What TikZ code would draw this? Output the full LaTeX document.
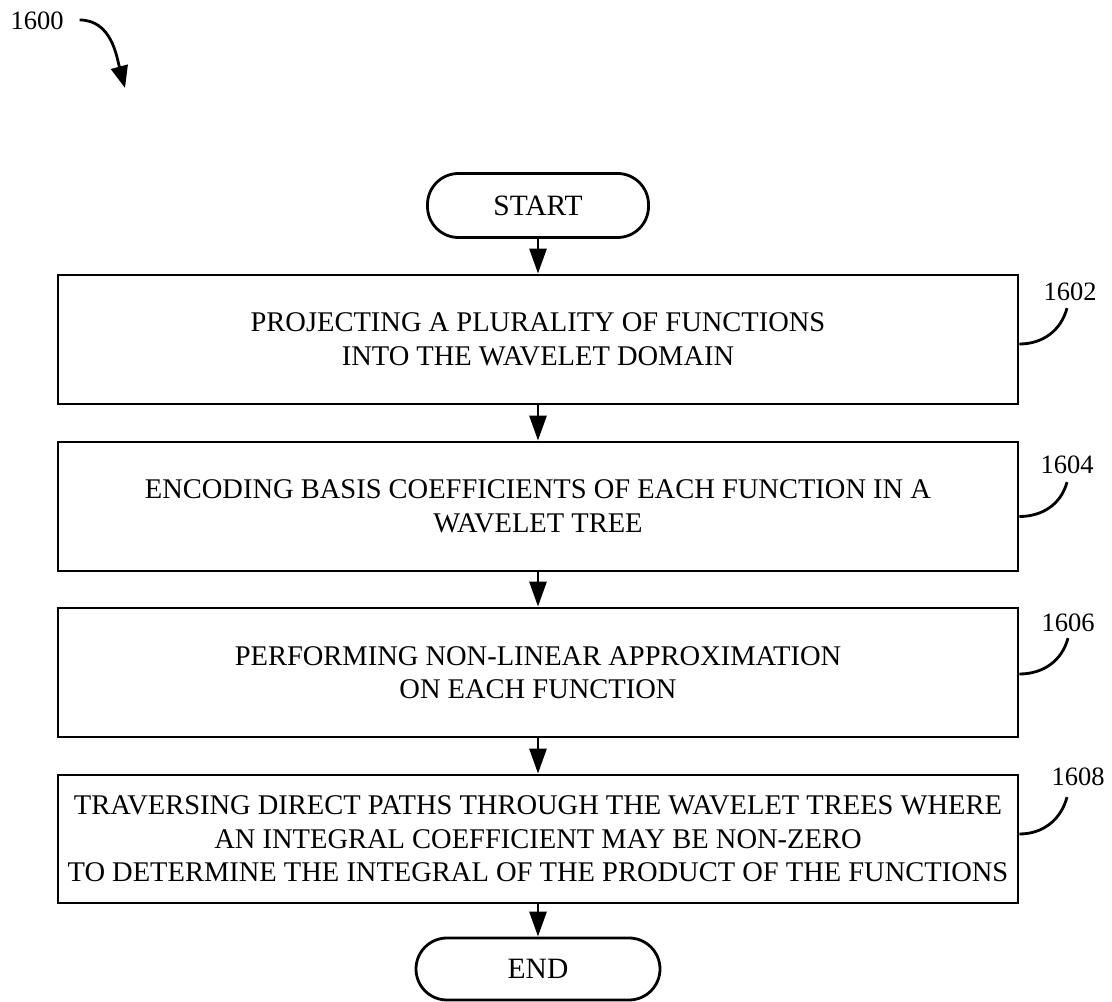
\documentclass[tikz,border=0pt]{standalone}
\usepackage{fontspec}
\setmainfont{Liberation Serif}
\usetikzlibrary{arrows.meta,positioning}

\begin{document}
\begin{tikzpicture}[x=1pt,y=1pt,
  stepbox/.style={draw, line width=2.8pt, minimum width=960pt, minimum height=129pt, align=center, font=\fontsize{28.5}{33.5}\selectfont},
  term/.style={draw, line width=2.8pt, rounded corners=31pt, minimum height=64pt, font=\fontsize{29.5}{32}\selectfont},
  flow/.style={line width=2.8pt, -{Triangle[length=25pt,width=17pt]}},
  ref/.style={font=\fontsize{26.5}{30}\selectfont, inner sep=2pt},
  lead/.style={line width=2.8pt}]
\useasboundingbox (0,0) rectangle (1112,1002);

\node[term, minimum width=221pt] (start) at (538,796.5) {START};
\node[stepbox] (b1) at (538,662.5) {PROJECTING A PLURALITY OF FUNCTIONS\\INTO THE WAVELET DOMAIN};
\node[stepbox] (b2) at (538,495.5) {ENCODING BASIS COEFFICIENTS OF EACH FUNCTION IN A\\WAVELET TREE};
\node[stepbox] (b3) at (538,329.5) {PERFORMING NON-LINEAR APPROXIMATION\\ON EACH FUNCTION};
\node[stepbox, minimum height=128pt] (b4) at (538,163) {TRAVERSING DIRECT PATHS THROUGH THE WAVELET TREES WHERE\\AN INTEGRAL COEFFICIENT MAY BE NON-ZERO\\TO DETERMINE THE INTEGRAL OF THE PRODUCT OF THE FUNCTIONS};
\node[term, minimum width=244pt, minimum height=62pt] (end) at (538,33) {END};

\draw[flow] (start) -- (b1);
\draw[flow] (b1) -- (b2);
\draw[flow] (b2) -- (b3);
\draw[flow] (b3) -- (b4);
\draw[flow] (b4) -- (end);

% reference numerals
\node[ref] (l1600) at (37,981) {1600};
\node[ref] (l1602) at (1070,710) {1602};
\node[ref] (l1604) at (1067,537) {1604};
\node[ref] (l1606) at (1068,379) {1606};
\node[ref] (l1608) at (1078,225) {1608};

\draw[lead, -{Triangle[length=22pt,width=17pt]}] ([xshift=14pt,yshift=1pt]l1600.east) to[out=0,in=105] (125,914);
\draw[lead] ([yshift=-4.5pt]b1.east) to[out=0,in=-105] ([xshift=-3pt,yshift=-5pt]l1602.south);
\draw[lead] ([yshift=-10pt]b2.east) to[out=0,in=-105] ([yshift=-6pt]l1604.south);
\draw[lead] ([yshift=-1.5pt]b3.east) to[out=0,in=-105] ([yshift=-4pt]l1606.south);
\draw[lead] ([yshift=5pt]b4.east) to[out=0,in=-105] ([xshift=-11pt,yshift=-9pt]l1608.south);
\end{tikzpicture}
\end{document}
